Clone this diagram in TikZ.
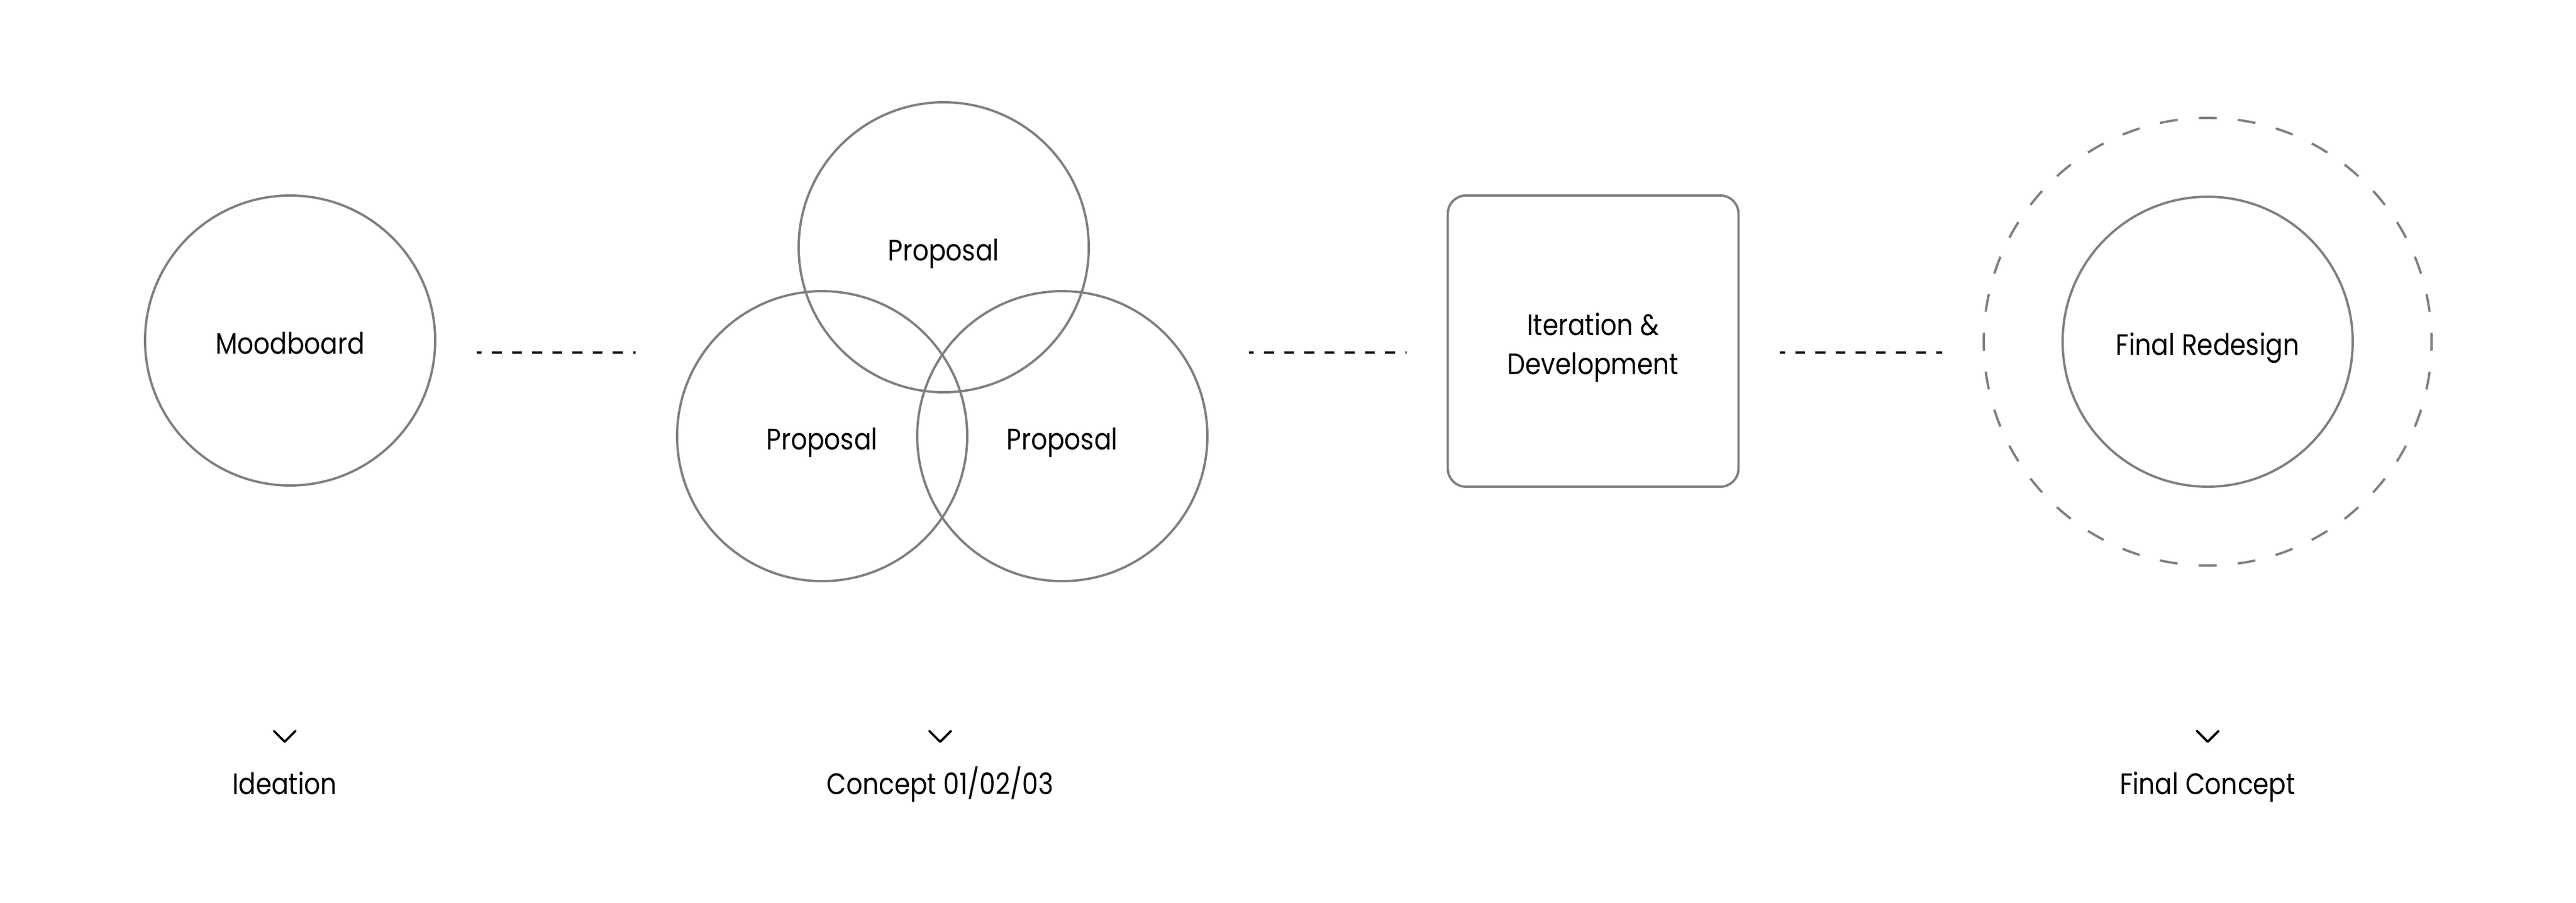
\documentclass[tikz,border=0pt]{standalone}
\usepackage{fontspec}
\setmainfont{Poppins}[FakeStretch=0.86]
\usetikzlibrary{calc}
\definecolor{linegray}{HTML}{7F7F7F}

\begin{document}
\begin{tikzpicture}[
	stage/.style={circle, draw=linegray, line width=1.1pt, minimum size=4.82cm, inner sep=0pt, text height=0.45cm, text depth=0cm, font=\fontsize{14}{18.5}\selectfont},
	card/.style={rectangle, rounded corners=0.3cm, draw=linegray, line width=1.1pt, minimum width=4.83cm, minimum height=4.84cm},
	cardtext/.style={align=center, font=\fontsize{14}{18.5}\selectfont},
	halo/.style={circle, draw=linegray, line width=1.1pt, minimum size=7.44cm, inner sep=0pt, dash pattern=on 0.3cm off 0.3493cm, dash phase=0.15cm},
	link/.style={black, line width=1pt, dash pattern=on 0.1675cm off 0.1675cm, dash phase=0.084cm, shorten <=0.67cm, shorten >=0.67cm},
	caption/.style={anchor=base, font=\fontsize{14}{18.5}\selectfont},
	chev/.style={black, line width=1.1pt, line cap=round, line join=round}
	]
	\useasboundingbox (0,0) rectangle (42.8,15);

	\node[stage] (mood) at (4.82,9.34) {Moodboard};
	\node[stage] (propT) at (15.68,10.89) {Proposal};
	\node[stage] (propL) at (13.66,7.75) {Proposal};
	\node[stage] (propR) at (17.65,7.75) {Proposal};
	\node[card] (iter) at (26.47,9.33) {};
	\node[cardtext] (iterText) at ([yshift=-1.1mm]iter.center) {Iteration \&\\Development};
	\node[stage] (final) at (36.68,9.32) {Final Redesign};
	\node[halo] (halo) at (final) {};

	% dotted links between the stages
	\coordinate (lane) at (0,9.14);
	\draw[link] (mood.east |- lane) -- (propL.west |- lane);
	\draw[link] (propR.east |- lane) -- (iter.west |- lane);
	\draw[link] (iter.east |- lane) -- (halo.west |- lane);

	\node[caption] (ideation) at (4.73,1.80) {Ideation};
	\node[caption] (concept) at (15.62,1.80) {Concept 01/02/03};
	\node[caption] (finalc) at (36.68,1.80) {Final Concept};
	\foreach \n in {ideation,concept,finalc}
		\draw[chev] ([shift={(-0.18,1.05)}]\n.base) -- ++(0.18,-0.18) -- ++(0.18,0.18);
\end{tikzpicture}
\end{document}
